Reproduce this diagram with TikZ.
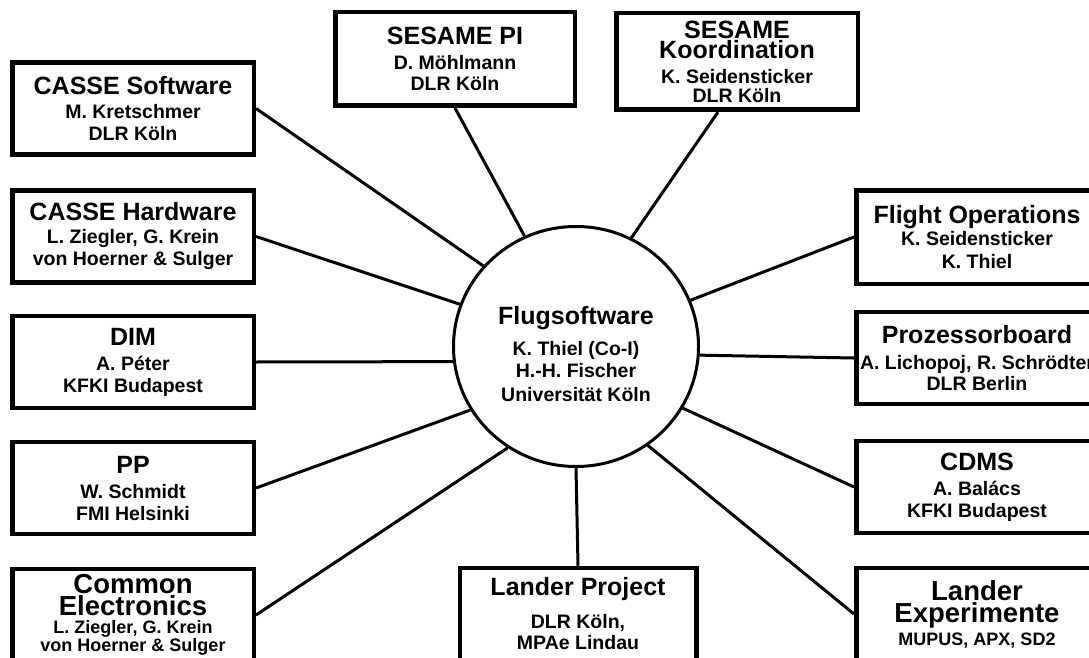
\documentclass[tikz,border=0pt]{standalone}
\usepackage{fontspec}
\setmainfont{Liberation Sans}
\usetikzlibrary{shapes.geometric}
\tikzset{
  box/.style={draw, line width=4.5pt, fill=white, minimum width=241.5pt, minimum height=92pt,
    align=center, inner sep=0pt, font=\bfseries\fontsize{19.5}{22}\selectfont},
  smallsub/.style={font=\bfseries\fontsize{18}{22}\selectfont},
  hub/.style={draw, ellipse, line width=3pt, fill=white, minimum width=245pt, minimum height=240pt, inner sep=0pt},
  hubtext/.style={align=center, inner sep=0pt, font=\bfseries\fontsize{19.5}{22}\selectfont},
  link/.style={line width=3pt},
}
\newcommand{\ttl}[1]{{\fontsize{25}{25}\selectfont #1}}
\newcommand{\ttlb}[1]{{\fontsize{27.5}{25}\selectfont #1}}
\begin{document}
\begin{tikzpicture}[x=1pt,y=-1pt]
\useasboundingbox (0,0) rectangle (1089,658);
\clip (0,0) rectangle (1089,658);
\fill[white] (0,0) rectangle (1089,658);

% hub
\node[hub] (c) at (576,346.5) {};

% left column
\node[box] (csw) at (133,108.5) {\ttl{CASSE Software}\\[2pt] M. Kretschmer\\ DLR Köln};
\node[box] (chw) at (133,236.5) {\ttl{CASSE Hardware}\\[1pt] L. Ziegler, G. Krein\\ von Hoerner \& Sulger};
\node[box] (dim) at (133,362) {\ttl{DIM}\\[3pt] A. Péter\\ KFKI Budapest};
\node[box] (pp) at (133,488) {\ttl{PP}\\[3pt] W. Schmidt\\ FMI Helsinki};
\node[box, smallsub] (ce) at (133,615) {\ttlb{Common}\\ \ttlb{Electronics}\\[-4pt] L. Ziegler, G. Krein\\[-4pt] von Hoerner \& Sulger};

% top
\node[box, minimum width=239.5pt, minimum height=93.5pt] (spi) at (455,59) {\ttl{SESAME PI}\\[3pt] D. Möhlmann\\[-1pt] DLR Köln};
\node[box, minimum height=96.5pt] (sk) at (737,61.5) {\ttl{SESAME}\\[-2pt] \ttl{Koordination}\\[3pt] K. Seidensticker\\[-3pt] DLR Köln};

% right column
\node[box, minimum height=93.5pt] (fo) at (977,237) {\ttl{Flight Operations}\\ K. Seidensticker\\[1pt] K. Thiel};
\node[box] (pb) at (977,358) {\ttl{Prozessorboard}\\[4pt] A. Lichopoj, R. Schrödter\\[-1pt] DLR Berlin};
\node[box] (cdms) at (977,487) {\ttl{CDMS}\\[3pt] A. Balács\\ KFKI Budapest};
\node[box, smallsub] (le) at (977,614) {\ttlb{Lander}\\ \ttlb{Experimente}\\[1pt] MUPUS, APX, SD2};

% bottom
\node[box, minimum width=236.5pt] (lp) at (578,614) {\ttl{Lander Project}\\[11pt] DLR Köln,\\[-1pt] MPAe Lindau};

% connectors
\draw[link] (c.139) -- (csw.east);
\draw[link] (c.160) -- (chw.east);
\draw[link] (c.187) -- (dim.east);
\draw[link] (c.211) -- (pp.east);
\draw[link] (c.236) -- (ce.east);
\draw[link] (c.270) -- (lp.north);
\draw[link] (c.306) -- (le.west);
\draw[link] (c.330) -- (cdms.west);
\draw[link] (c.356) -- (pb.west);
\draw[link] (c.22) -- (fo.west);
\draw[link] (c.63) -- ([xshift=-19pt]sk.south);
\draw[link] (c.115) -- (spi.south);

% hub text
\node[hubtext] (ct) at ([yshift=-8pt]c.center) {\ttl{Flugsoftware}\\[9pt] K. Thiel (Co-I)\\ H.-H. Fischer\\[2pt] Universität Köln};
\end{tikzpicture}
\end{document}
